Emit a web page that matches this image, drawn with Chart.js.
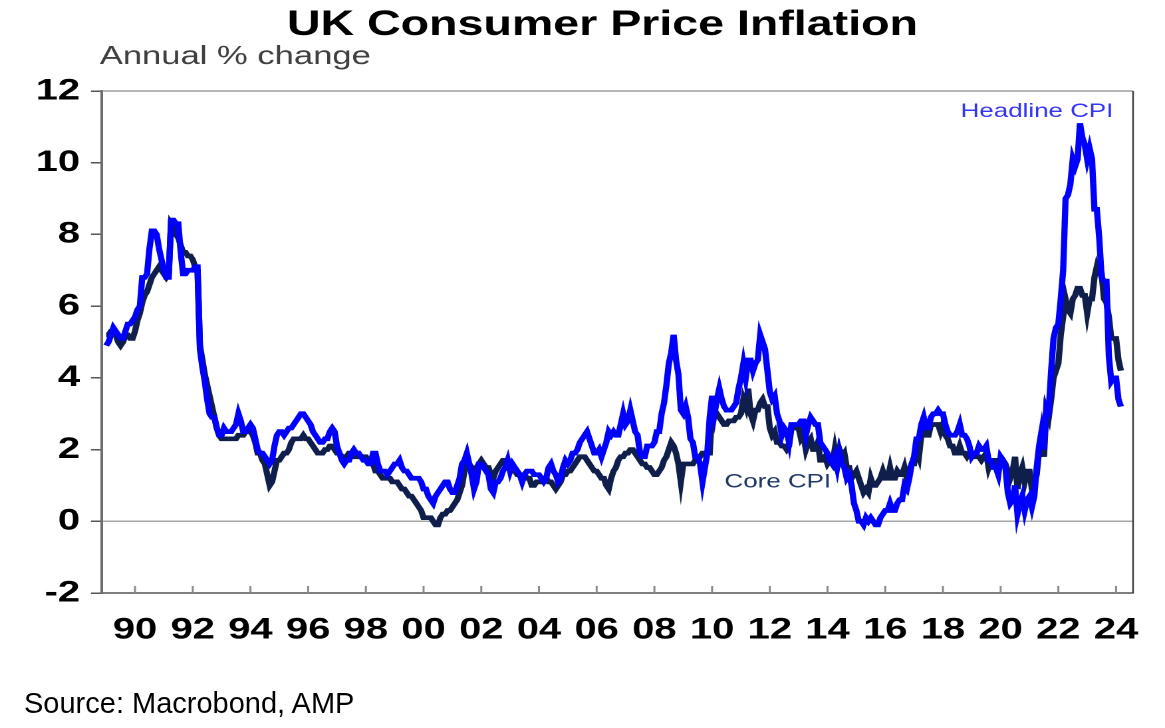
<!DOCTYPE html>
<html>
<head>
<meta charset="utf-8">
<title>UK Consumer Price Inflation</title>
<script src="https://cdn.jsdelivr.net/npm/chart.js@4.4.1/dist/chart.umd.min.js"></script>
<style>
  html, body { margin: 0; padding: 0; background: #fff; }
  body { width: 1165px; height: 728px; overflow: hidden; position: relative; }
  /* the source chart is stretched sideways, so draw narrow and scale it out */
  #wrap { position: absolute; left: 0; top: 0; width: 876px; height: 728px; transform: scaleX(1.3299); transform-origin: 0 0; }
  #source { position: absolute; left: 24px; top: 689px; font: 29px/1 "Liberation Sans", Arial, sans-serif; color: #000; white-space: nowrap; }
</style>
</head>
<body>
<div id="wrap"><canvas id="cpiChart"></canvas></div>
<div id="source">Source: Macrobond, AMP</div>
<script>
// monthly series, Jan 1989 .. Mar 2024 (annual % change)
const startYear = 1989;

const headline = [
  4.9, 5.0, 5.2, 5.4, 5.3, 5.2, 5.1, 5.1, 5.3, 5.5, 5.5, 5.6, // 1989
  5.7, 5.9, 6.0, 6.8, 6.8, 6.9, 7.6, 8.1, 8.1, 8.0, 7.6, 7.3, // 1990
  7.0, 6.8, 6.8, 8.4, 8.4, 8.3, 8.3, 7.5, 6.9, 6.9, 7.0, 7.0, // 1991
  7.0, 7.1, 7.1, 4.8, 4.3, 3.9, 3.4, 3.0, 2.9, 2.9, 2.6, 2.4, // 1992
  2.4, 2.6, 2.5, 2.5, 2.5, 2.6, 2.7, 3.0, 2.8, 2.5, 2.5, 2.6, // 1993
  2.7, 2.6, 2.3, 2.0, 1.9, 1.9, 1.8, 1.7, 1.6, 1.7, 2.1, 2.4, // 1994
  2.5, 2.5, 2.4, 2.5, 2.6, 2.6, 2.7, 2.8, 2.9, 3.0, 3.0, 2.9, // 1995
  2.8, 2.7, 2.5, 2.4, 2.3, 2.2, 2.2, 2.3, 2.3, 2.5, 2.6, 2.5, // 1996
  2.1, 1.9, 1.7, 1.6, 1.7, 1.7, 1.9, 2.0, 1.9, 1.9, 1.8, 1.7, // 1997
  1.7, 1.6, 1.6, 1.9, 1.9, 1.6, 1.4, 1.4, 1.4, 1.3, 1.4, 1.5, // 1998
  1.6, 1.6, 1.7, 1.5, 1.4, 1.4, 1.3, 1.2, 1.2, 1.2, 1.2, 1.1, // 1999
  0.9, 0.9, 0.7, 0.6, 0.5, 0.7, 0.8, 0.9, 1.0, 1.1, 1.1, 0.9, // 2000
  0.8, 0.8, 1.0, 1.2, 1.6, 1.7, 1.9, 1.6, 1.3, 0.9, 1.1, 1.6, // 2001
  1.6, 1.5, 1.4, 1.3, 0.9, 0.8, 1.1, 1.1, 1.2, 1.4, 1.5, 1.7, // 2002
  1.4, 1.6, 1.5, 1.4, 1.3, 1.1, 1.3, 1.4, 1.4, 1.4, 1.3, 1.3, // 2003
  1.3, 1.2, 1.1, 1.2, 1.5, 1.6, 1.4, 1.3, 1.1, 1.2, 1.5, 1.7, // 2004
  1.6, 1.7, 1.9, 1.9, 2.0, 2.2, 2.3, 2.4, 2.5, 2.3, 2.1, 1.9, // 2005
  1.9, 2.0, 1.8, 2.0, 2.2, 2.5, 2.4, 2.5, 2.4, 2.4, 2.7, 3.0, // 2006
  2.7, 2.8, 3.1, 2.8, 2.5, 2.4, 1.9, 1.8, 1.8, 2.1, 2.1, 2.1, // 2007
  2.2, 2.5, 2.5, 3.0, 3.3, 3.8, 4.4, 4.7, 5.2, 4.5, 4.1, 3.1, // 2008
  3.0, 3.2, 2.9, 2.3, 2.2, 1.8, 1.8, 1.6, 1.1, 1.5, 1.9, 2.9, // 2009
  3.5, 3.0, 3.4, 3.7, 3.4, 3.2, 3.1, 3.1, 3.1, 3.2, 3.3, 3.7, // 2010
  4.0, 4.4, 4.0, 4.5, 4.5, 4.2, 4.4, 4.5, 5.2, 5.0, 4.8, 4.2, // 2011
  3.6, 3.4, 3.5, 3.0, 2.8, 2.4, 2.6, 2.5, 2.2, 2.7, 2.7, 2.7, // 2012
  2.7, 2.8, 2.8, 2.4, 2.7, 2.9, 2.8, 2.7, 2.7, 2.2, 2.1, 2.0, // 2013
  1.9, 1.7, 1.6, 1.8, 1.5, 1.9, 1.6, 1.5, 1.2, 1.3, 1.0, 0.5, // 2014
  0.3, 0.0, 0.0, -0.1, 0.1, 0.0, 0.1, 0.0, -0.1, -0.1, 0.1, 0.2, // 2015
  0.3, 0.3, 0.5, 0.3, 0.3, 0.5, 0.6, 0.6, 1.0, 0.9, 1.2, 1.6, // 2016
  1.8, 2.3, 2.3, 2.7, 2.9, 2.6, 2.6, 2.9, 3.0, 3.0, 3.1, 3.0, // 2017
  3.0, 2.7, 2.5, 2.4, 2.4, 2.4, 2.5, 2.7, 2.4, 2.4, 2.3, 2.1, // 2018
  1.8, 1.9, 1.9, 2.1, 2.0, 2.0, 2.1, 1.7, 1.7, 1.5, 1.5, 1.3, // 2019
  1.8, 1.7, 1.5, 0.8, 0.5, 0.6, 1.0, 0.2, 0.5, 0.7, 0.3, 0.6, // 2020
  0.7, 0.4, 0.7, 1.5, 2.1, 2.5, 2.0, 3.2, 3.1, 4.2, 5.1, 5.4, // 2021
  5.5, 6.2, 7.0, 9.0, 9.1, 9.4, 10.1, 9.9, 10.1, 11.1, 10.7, 10.5, // 2022
  10.1, 10.4, 10.1, 8.7, 8.7, 7.9, 6.8, 6.7, 6.7, 4.6, 3.9, 4.0, // 2023
  4.0, 3.4, 3.2 // 2024
];

const core = [
  5.2, 5.2, 5.3, 5.3, 5.2, 5.0, 4.9, 5.0, 5.2, 5.2, 5.1, 5.1, // 1989
  5.3, 5.6, 5.8, 6.1, 6.3, 6.4, 6.6, 6.8, 6.9, 7.0, 7.1, 7.0, // 1990
  6.9, 6.8, 6.9, 8.3, 8.2, 8.0, 7.9, 7.7, 7.5, 7.5, 7.4, 7.4, // 1991
  7.3, 7.1, 7.0, 4.9, 4.5, 4.1, 3.8, 3.5, 3.2, 2.9, 2.6, 2.4, // 1992
  2.3, 2.3, 2.3, 2.3, 2.3, 2.3, 2.3, 2.4, 2.4, 2.4, 2.5, 2.5, // 1993
  2.5, 2.4, 2.2, 1.9, 1.9, 1.7, 1.6, 1.3, 1.0, 1.1, 1.4, 1.7, // 1994
  1.7, 1.8, 1.9, 1.9, 2.0, 2.2, 2.3, 2.3, 2.3, 2.3, 2.4, 2.3, // 1995
  2.3, 2.2, 2.1, 2.0, 1.9, 1.9, 1.9, 2.0, 2.0, 2.1, 2.1, 2.0, // 1996
  1.9, 1.9, 1.8, 1.8, 1.8, 1.9, 1.9, 1.8, 1.8, 1.8, 1.8, 1.8, // 1997
  1.8, 1.7, 1.7, 1.6, 1.4, 1.4, 1.3, 1.2, 1.2, 1.2, 1.2, 1.1, // 1998
  1.1, 1.1, 1.0, 0.9, 0.9, 0.8, 0.7, 0.7, 0.6, 0.5, 0.4, 0.3, // 1999
  0.1, 0.1, 0.1, 0.1, 0.0, -0.1, -0.1, 0.1, 0.2, 0.2, 0.3, 0.3, // 2000
  0.4, 0.5, 0.6, 0.8, 1.0, 1.4, 1.7, 1.6, 1.5, 1.4, 1.5, 1.6, // 2001
  1.7, 1.6, 1.5, 1.5, 1.3, 1.2, 1.4, 1.5, 1.6, 1.7, 1.7, 1.6, // 2002
  1.6, 1.5, 1.4, 1.3, 1.3, 1.3, 1.3, 1.2, 1.2, 1.0, 1.0, 1.1, // 2003
  1.1, 1.1, 1.2, 1.2, 1.1, 1.1, 1.0, 0.9, 1.0, 1.1, 1.3, 1.3, // 2004
  1.4, 1.4, 1.5, 1.6, 1.7, 1.8, 1.8, 1.8, 1.7, 1.6, 1.5, 1.4, // 2005
  1.4, 1.3, 1.2, 1.2, 1.0, 0.9, 1.2, 1.4, 1.5, 1.7, 1.8, 1.8, // 2006
  1.9, 1.9, 2.0, 2.0, 1.9, 1.8, 1.7, 1.6, 1.6, 1.5, 1.5, 1.4, // 2007
  1.3, 1.3, 1.4, 1.5, 1.7, 1.8, 2.0, 2.2, 2.1, 1.9, 1.6, 1.1, // 2008
  1.6, 1.6, 1.6, 1.6, 1.6, 1.7, 1.8, 1.8, 1.9, 1.9, 1.9, 1.9, // 2009
  3.1, 3.1, 3.0, 2.9, 2.8, 2.7, 2.7, 2.8, 2.8, 2.8, 2.9, 2.9, // 2010
  3.0, 3.4, 3.2, 3.7, 3.0, 2.8, 3.1, 3.1, 3.3, 3.4, 3.2, 3.2, // 2011
  2.6, 2.4, 2.5, 2.2, 2.2, 2.1, 2.1, 2.0, 2.1, 2.6, 2.6, 2.6, // 2012
  2.6, 2.3, 2.4, 2.0, 2.2, 2.3, 2.0, 2.0, 2.2, 1.7, 1.7, 1.8, // 2013
  1.6, 1.7, 1.6, 2.0, 1.6, 2.0, 1.8, 1.9, 1.5, 1.5, 1.2, 1.3, // 2014
  1.4, 1.2, 1.0, 0.8, 0.9, 0.8, 1.2, 1.0, 1.0, 1.1, 1.2, 1.4, // 2015
  1.2, 1.2, 1.5, 1.2, 1.2, 1.4, 1.3, 1.3, 1.5, 1.2, 1.4, 1.6, // 2016
  1.6, 2.0, 1.8, 2.4, 2.6, 2.4, 2.4, 2.7, 2.7, 2.7, 2.7, 2.5, // 2017
  2.7, 2.4, 2.3, 2.1, 2.1, 1.9, 1.9, 2.1, 1.9, 1.9, 1.8, 1.9, // 2018
  1.9, 1.8, 1.8, 1.8, 1.7, 1.8, 1.9, 1.5, 1.7, 1.7, 1.7, 1.4, // 2019
  1.6, 1.7, 1.6, 1.4, 1.2, 1.4, 1.8, 0.9, 1.3, 1.5, 1.1, 1.4, // 2020
  1.4, 0.9, 1.1, 1.3, 2.0, 2.3, 1.8, 3.1, 2.9, 3.4, 4.0, 4.2, // 2021
  4.4, 5.2, 5.7, 6.2, 5.9, 5.8, 6.2, 6.3, 6.5, 6.5, 6.3, 6.3, // 2022
  5.8, 6.2, 6.2, 6.8, 7.1, 6.9, 6.9, 6.2, 6.1, 5.7, 5.1, 5.1, // 2023
  5.1, 4.5, 4.2 // 2024
];

// x axis ticks (Jan of each even year) and their labels
const tickYears = [1990, 1992, 1994, 1996, 1998, 2000, 2002, 2004, 2006, 2008, 2010, 2012, 2014, 2016, 2018, 2020, 2022, 2024];
const tickLabels = ["90", "92", "94", "96", "98", "00", "02", "04", "06", "08", "10", "12", "14", "16", "18", "20", "22", "24"];
// y axis: a tick every 1, a label every 2
const yLabelled = [-2, 0, 2, 4, 6, 8, 10, 12];

const titleText = "UK Consumer Price Inflation";
const subtitleText = "Annual % change";

const FONT = "'Liberation Sans', Arial, Helvetica, sans-serif";

function toPoints(values) {
  return values.map((v, i) => ({ x: startYear + i / 12, y: v }));
}

// frame, inward x ticks and all the captions
const chartText = {
  id: "chartText",
  afterDraw(chart) {
    const { ctx, chartArea, scales } = chart;
    let xs = scales.x;
    let ys = scales.y;
    ctx.save();

    ctx.lineWidth = 1.2;
    ctx.strokeStyle = "#8c8c8c";
    ctx.beginPath();
    ctx.moveTo(chartArea.left, chartArea.top);
    ctx.lineTo(chartArea.right, chartArea.top);
    ctx.stroke();
    ctx.strokeStyle = "#3a3a3a";
    ctx.beginPath();
    ctx.moveTo(chartArea.right, chartArea.top);
    ctx.lineTo(chartArea.right, chartArea.bottom);
    ctx.stroke();

    ctx.strokeStyle = "#8a8a8a";
    ctx.lineWidth = 1.5;
    tickYears.forEach((yr) => {
      let px = xs.getPixelForValue(yr);
      ctx.beginPath();
      ctx.moveTo(px, chartArea.bottom);
      ctx.lineTo(px, chartArea.bottom - 7);
      ctx.stroke();
    });

    ctx.textBaseline = "alphabetic";
    ctx.fillStyle = "#000";
    ctx.textAlign = "center";
    ctx.font = "bold 35px " + FONT;
    ctx.fillText(titleText, 453, 35);

    ctx.textAlign = "left";
    ctx.fillStyle = "#404040";
    ctx.font = "26px " + FONT;
    ctx.fillText(subtitleText, 75, 64);

    // series labels, placed in data units
    ctx.font = "19.5px " + FONT;
    ctx.textAlign = "center";
    ctx.fillStyle = "#3535f5";
    ctx.fillText("Headline CPI", xs.getPixelForValue(2021.26), ys.getPixelForValue(11.28));
    ctx.textAlign = "left";
    ctx.fillStyle = "#1f3864";
    ctx.fillText("Core CPI", xs.getPixelForValue(2010.43), ys.getPixelForValue(0.94));

    ctx.restore();
  },
};

const ctx = document.getElementById("cpiChart").getContext("2d");
const cpiChart = new Chart(ctx, {
  type: "line",
  data: {
    datasets: [
      {
        label: "Headline CPI",
        data: toPoints(headline),
        borderColor: "#0000ff",
        borderWidth: 4.7,
        pointRadius: 0,
        tension: 0,
      },
      {
        label: "Core CPI",
        data: toPoints(core),
        borderColor: "#0f1e4a",
        borderWidth: 4.7,
        pointRadius: 0,
        tension: 0,
      },
    ],
  },
  options: {
    responsive: true,
    maintainAspectRatio: false,
    animation: false,
    devicePixelRatio: 2,
    layout: { padding: { top: 91, right: 24, bottom: 0, left: 0 } },
    plugins: {
      legend: { display: false },
      tooltip: { enabled: false },
      title: { display: false },
    },
    events: [],
    scales: {
      x: {
        type: "linear",
        min: 1988.856,
        max: 2024.59,
        afterFit: (scale) => {
          scale.height = 135;
        },
        afterBuildTicks: (scale) => {
          scale.ticks = tickYears.map((v) => ({ value: v }));
        },
        grid: { display: false },
        border: { display: true, color: "#7f7f7f", width: 2 },
        ticks: {
          autoSkip: false,
          maxRotation: 0,
          padding: 11,
          color: "#000",
          font: { family: FONT, size: 30, weight: "bold" },
          callback: (v) => tickLabels[tickYears.indexOf(v)] ?? "",
        },
      },
      y: {
        min: -2,
        max: 12,
        afterFit: (scale) => {
          scale.width = 76.7;
        },
        grid: {
          drawOnChartArea: true,
          drawTicks: true,
          tickLength: 8.3,
          tickWidth: 1.5,
          tickColor: "#555",
          color: (c) => (c.tick && c.tick.value === 0 ? "#a6a6a6" : "rgba(0,0,0,0)"),
          lineWidth: 1.5,
        },
        border: { display: true, color: "#6e6e6e", width: 2 },
        ticks: {
          stepSize: 1,
          padding: 8.2,
          color: "#000",
          font: { family: FONT, size: 30, weight: "bold" },
          callback: (v) => (yLabelled.includes(v) ? String(v) : ""),
        },
      },
    },
  },
  plugins: [chartText],
});
</script>
</body>
</html>
